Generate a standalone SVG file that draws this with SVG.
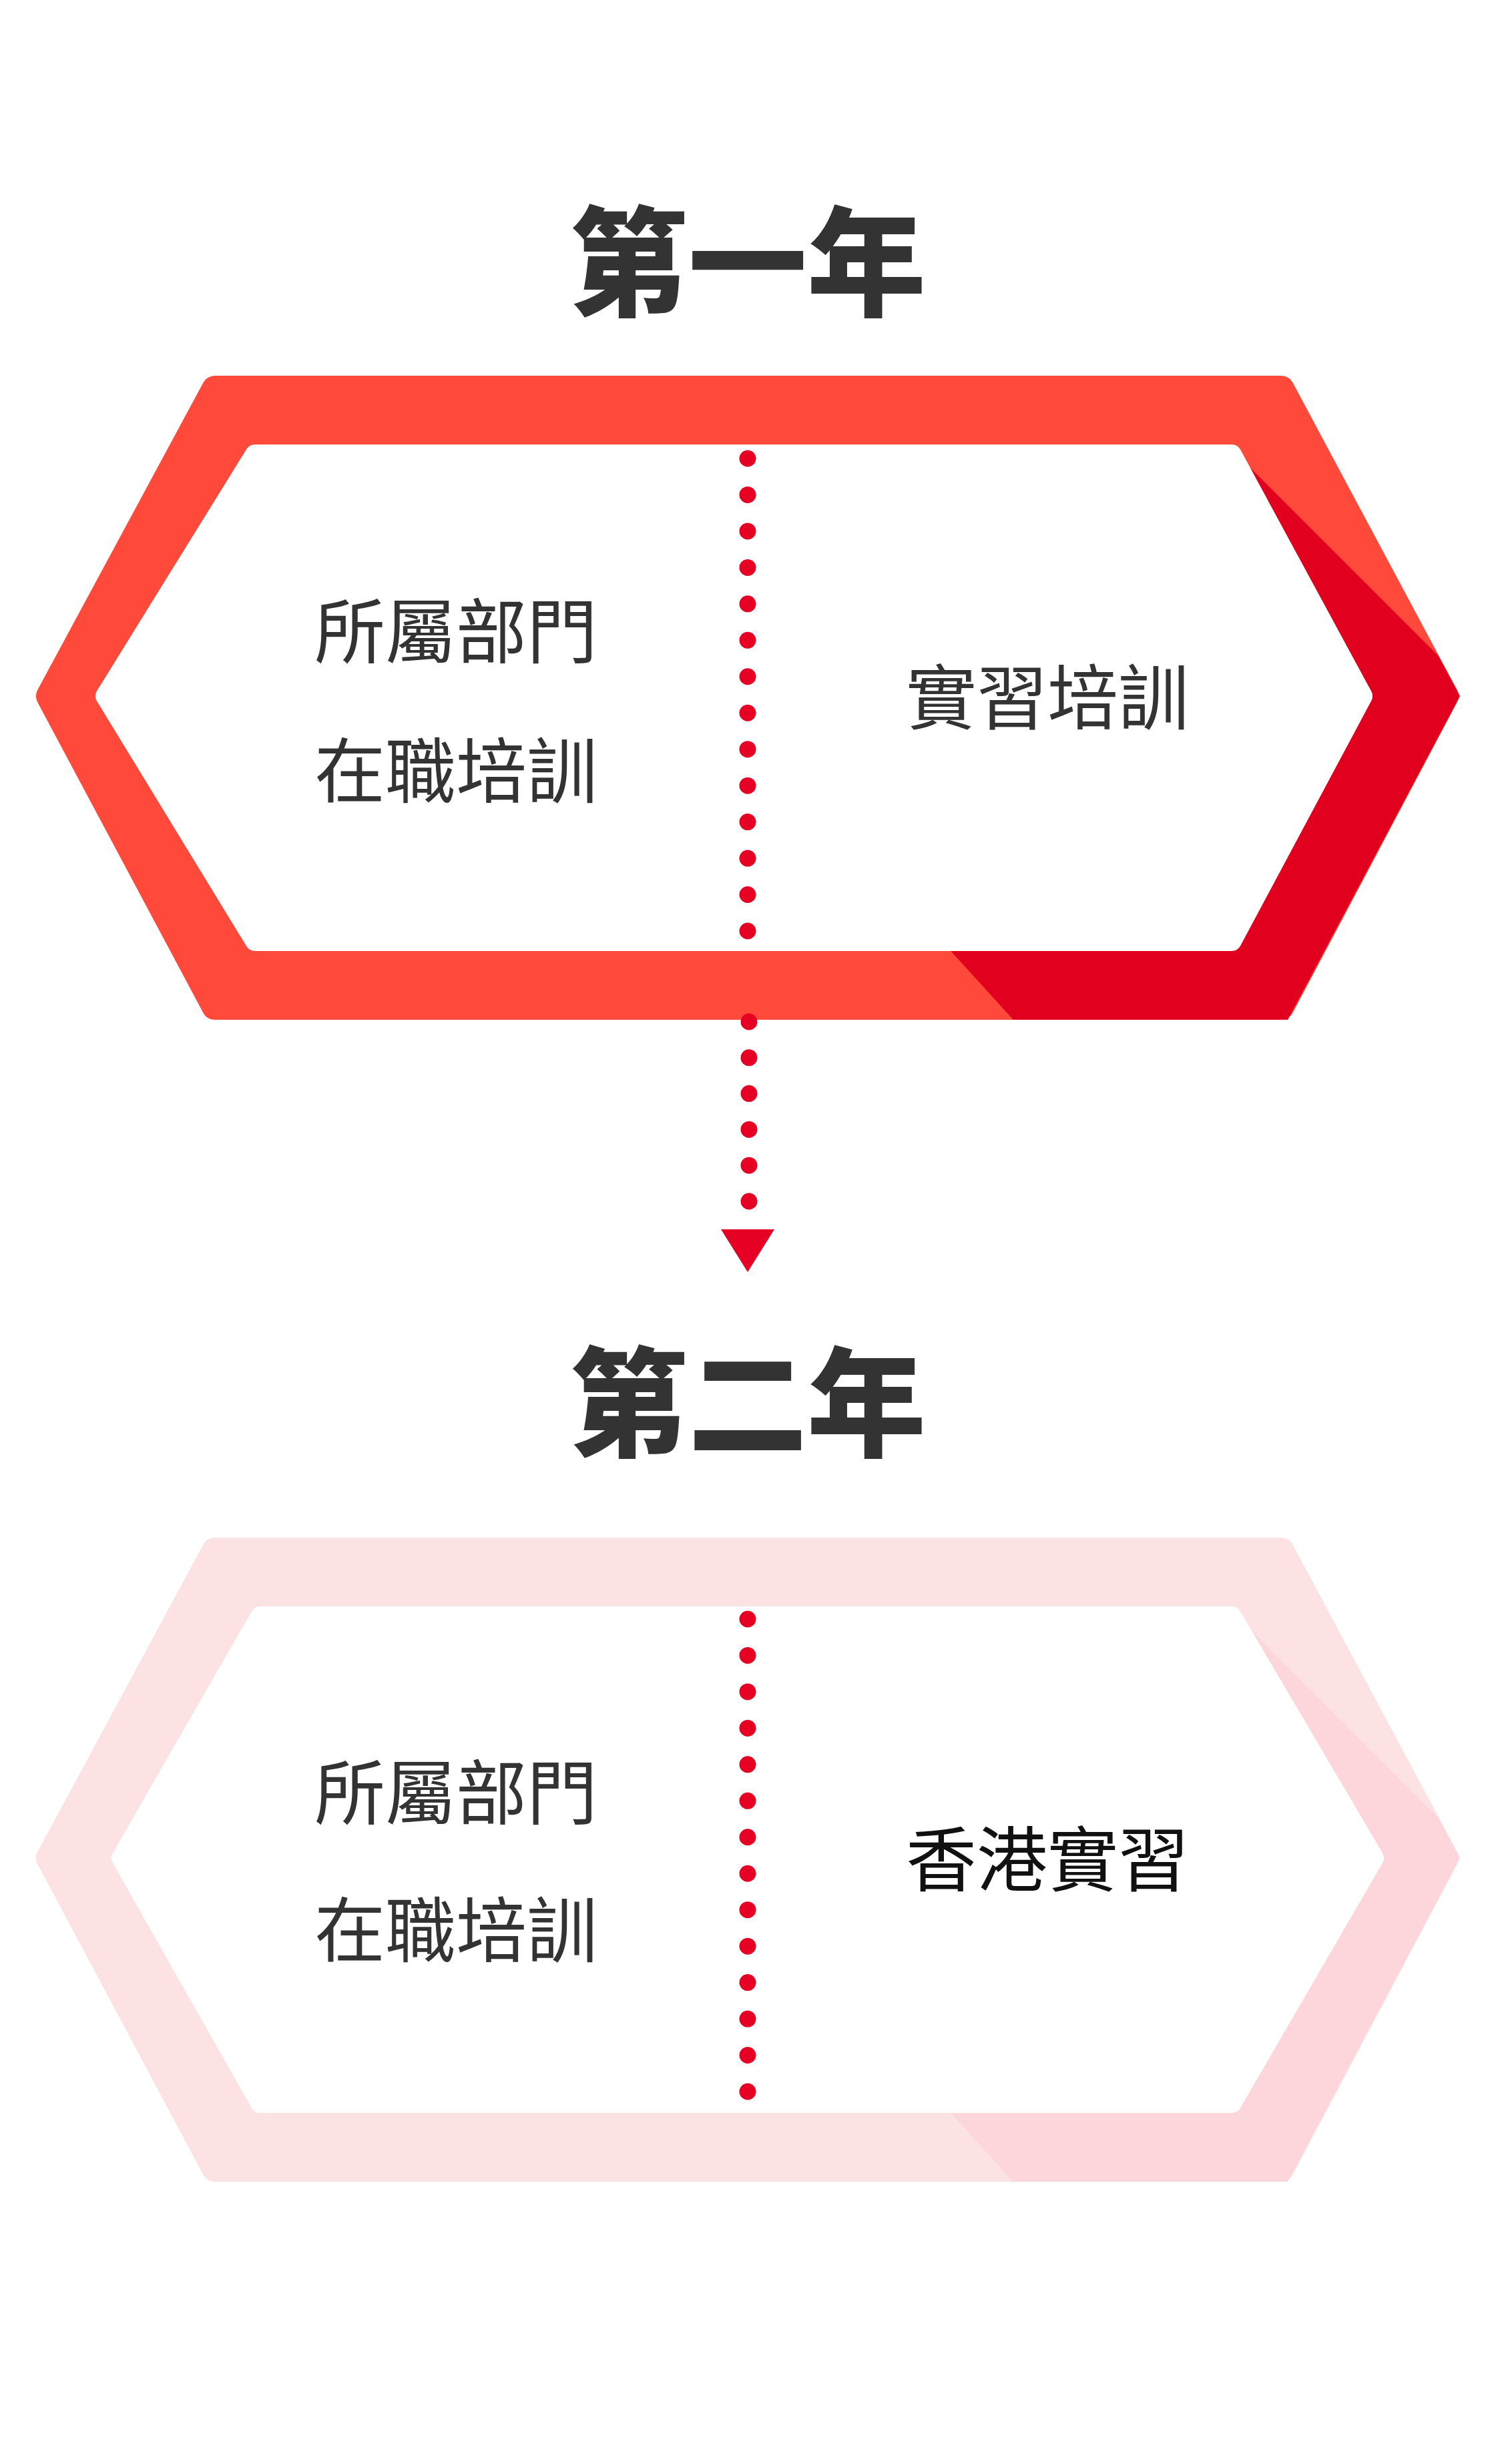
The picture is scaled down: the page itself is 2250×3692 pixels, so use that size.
<svg xmlns="http://www.w3.org/2000/svg" width="2250" height="3692" viewBox="0 0 2250 3692">
<style>
.title{font-family:"Noto Sans CJK TC","Noto Sans CJK SC",sans-serif;font-weight:900;font-size:178px;fill:#333;text-anchor:middle}
.lbl{font-family:"Noto Sans CJK TC","Noto Sans CJK SC",sans-serif;font-size:106px;fill:#333;text-anchor:middle}
.dots{stroke:#e60023;stroke-width:25;stroke-linecap:round;fill:none}
</style>
<defs>
<clipPath id="oc"><polygon points="312,563 1929,563 2187,1043 1929,1528 312,1528 52,1043"/></clipPath>
<clipPath id="oc2"><polygon points="312,2304 1929,2304 2187,2784 1929,3269 312,3269 52,2784"/></clipPath>
</defs>
<rect width="2250" height="3692" fill="#fff"/>
<g id="title1"><text class="title" x="1120" y="412" dominant-baseline="middle">第一年</text></g>
<g id="hex1">
<polygon points="322,583 1919,583 2165,1043 1919,1508 322,1508 74,1043" fill="#ff4a3b" stroke="#ff4a3b" stroke-width="40" stroke-linejoin="round"/>
<polygon clip-path="url(#oc)" points="1864,692 2200,1028 2200,1560 1547,1560 1418,1418 2016,1031" fill="#e2001f"/>
<polygon points="382,681 1845,681 2041,1043 1845,1410 382,1410 158,1043" fill="#fff" stroke="#fff" stroke-width="30" stroke-linejoin="round"/>
<text class="lbl" x="683" y="956" dominant-baseline="middle">所屬部門</text>
<text class="lbl" x="683" y="1165" dominant-baseline="middle">在職培訓</text>
<text class="lbl" x="1569" y="1055" dominant-baseline="middle">實習培訓</text>
</g>
<g id="title2"><text class="title" x="1120" y="2121" dominant-baseline="middle">第二年</text></g>
<g id="hex2">
<polygon points="322,2324 1919,2324 2165,2784 1919,3249 322,3249 74,2784" fill="#fde2e4" stroke="#fde2e4" stroke-width="40" stroke-linejoin="round"/>
<polygon clip-path="url(#oc2)" points="1864,2433 2200,2769 2200,3301 1547,3301 1418,3159 2016,2772" fill="#fcd6db"/>
<polygon points="390,2422 1845,2422 2058,2784 1845,3151 390,3151 182,2784" fill="#fff" stroke="#fff" stroke-width="30" stroke-linejoin="round"/>
<text class="lbl" x="683" y="2696" dominant-baseline="middle">所屬部門</text>
<text class="lbl" x="683" y="2902" dominant-baseline="middle">在職培訓</text>
<text class="lbl" x="1569" y="2796" dominant-baseline="middle" fill="#111" style="fill:#111">香港實習</text>
</g>
<g id="connectors">
<line class="dots" x1="1120" y1="687" x2="1120" y2="1396" stroke-dasharray="0 54.46"/>
<line class="dots" x1="1122" y1="1531" x2="1122" y2="1801" stroke-dasharray="0 53.8"/>
<polygon points="1080,1842 1160,1842 1120,1906" fill="#e60023"/>
<line class="dots" x1="1120" y1="2426" x2="1120" y2="3135" stroke-dasharray="0 54.46"/>
</g>
</svg>
